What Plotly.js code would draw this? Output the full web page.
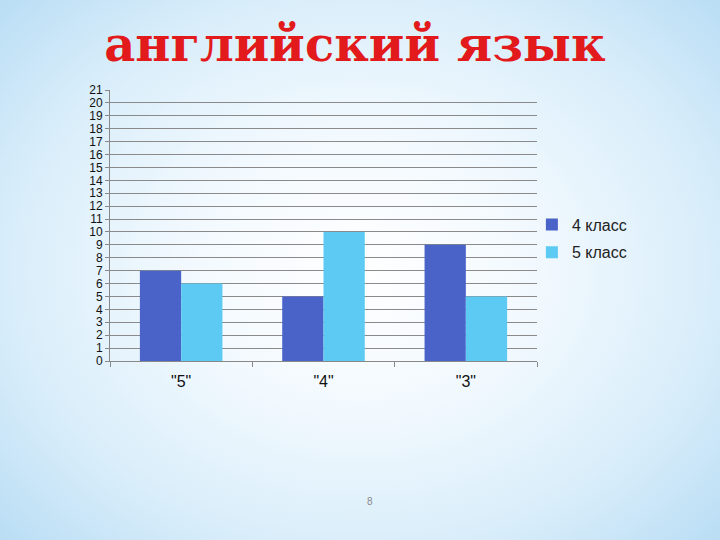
<!DOCTYPE html>
<html><head><meta charset="utf-8">
<script src="https://cdn.plot.ly/plotly-3.0.1.min.js"></script>
<style>
html,body{margin:0;padding:0;width:720px;height:540px;overflow:hidden;}
body{background:radial-gradient(ellipse 70% 75% at 50% 50%, #ffffff 0%, #f2f9fe 35%, #d8edfa 70%, #b7dcf4 100%);}
#chart{width:720px;height:540px;}
</style></head><body>
<div id="chart"></div>
<script>
const categories = ['"5"', '"4"', '"3"'];
const class4 = [7, 5, 9];
const class5 = [6, 10, 5];
const seriesNames = ['4 класс', '5 класс'];
const yTicks = [0,1,2,3,4,5,6,7,8,9,10,11,12,13,14,15,16,17,18,19,20,21];

const data = [
  {type:'bar', x:categories, y:class4, name:seriesNames[0], legendgroup:'a', marker:{color:'#4a63c9'}},
  {type:'bar', x:categories, y:class5, name:seriesNames[1], legendgroup:'b', marker:{color:'#5ccaf2'}}
];
const layout = {
  width:720, height:540,
  paper_bgcolor:'rgba(0,0,0,0)', plot_bgcolor:'rgba(0,0,0,0)',
  margin:{l:110, r:183, t:90, b:179},
  barmode:'group', bargap:0.42, bargroupgap:0,
  title:{text:'английский язык', x:0.493, xanchor:'center', y:0.918, yanchor:'middle',
    font:{family:'DejaVu Serif', size:48, color:'#e21a1c', weight:'bold'}},
  xaxis:{type:'category', categoryorder:'array', categoryarray:categories,
    showline:true, linecolor:'#888', linewidth:1, ticks:'outside', tickson:'boundaries',
    ticklen:5, tickcolor:'#888', showgrid:false,
    tickfont:{family:'Liberation Sans', size:16, color:'#111'}, ticklabelstandoff:6},
  yaxis:{range:[0,21], tickvals:yTicks, showline:true, linecolor:'#888', linewidth:1,
    ticks:'outside', ticklen:4, tickcolor:'#888', gridcolor:'#8a8a8a', gridwidth:1,
    tickfont:{family:'Liberation Sans', size:12, color:'#111'}, zeroline:false},
  legend:{x:0.988, xanchor:'left', y:0.452, yanchor:'middle', bgcolor:'rgba(0,0,0,0)',
    traceorder:'grouped', font:{family:'Liberation Sans', size:16, color:'#222'},
    itemwidth:30, tracegroupgap:4},
  showlegend:true,
  annotations:[{text:'8', xref:'paper', yref:'paper', x:(370-110)/427, y:-(502-361)/271,
    yanchor:'middle', showarrow:false, font:{family:'Liberation Sans', size:10, color:'#888'}}]
};
Plotly.newPlot('chart', data, layout, {displayModeBar:false, staticPlot:true});
</script></body></html>
